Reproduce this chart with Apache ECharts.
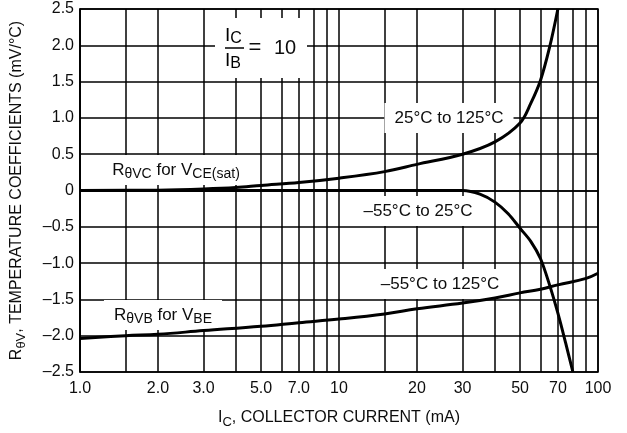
<!DOCTYPE html>
<html><head><meta charset="utf-8">
<script src="https://cdn.jsdelivr.net/npm/echarts@6/dist/echarts.min.js"></script>
<style>html,body{margin:0;padding:0;background:#fff}#c{width:627px;height:433px}</style>
</head><body><div id="c"></div>
<script>
// Collector current (mA) and temperature coefficients (mV/°C)
const vceHotCurrent = [1, 2, 3, 4, 5, 7, 10, 15, 20, 30, 40, 50, 55, 60, 65, 70];
const vceHotCoef    = [0, 0.005, 0.02, 0.04, 0.07, 0.11, 0.17, 0.26, 0.36, 0.5, 0.67, 0.93, 1.2, 1.52, 1.97, 2.5];

const vceColdCurrent = [1, 5, 10, 20, 30, 35, 40, 45, 50, 55, 60, 65, 70, 75, 80];
const vceColdCoef    = [0, 0, 0, 0, 0, -0.05, -0.16, -0.32, -0.52, -0.7, -0.94, -1.3, -1.69, -2.1, -2.5];

const vbeCurrent = [1, 1.5, 2, 3, 5, 7, 10, 15, 20, 30, 40, 50, 60, 70, 90, 100];
const vbeCoef    = [-2.04, -2.0, -1.98, -1.93, -1.87, -1.82, -1.77, -1.70, -1.63, -1.55, -1.48, -1.41, -1.36, -1.30, -1.21, -1.14];

const xGridValues = [1, 1.5, 2, 3, 4, 5, 6, 7, 8, 9, 10, 15, 20, 30, 40, 50, 60, 70, 80, 90, 100];
const xTickValues = [1, 2, 3, 5, 7, 10, 20, 30, 50, 70, 100];
const xTickLabels = ['1.0', '2.0', '3.0', '5.0', '7.0', '10', '20', '30', '50', '70', '100'];

const FONT = "'Liberation Sans', Arial, Helvetica, sans-serif";
const INK = '#0d0d0d';
const lg = v => Math.log10(v);
const toData = (xs, ys) => xs.map((x, i) => [lg(x), ys[i]]);

const rich = {
  m: { fontSize: 17, lineHeight: 22, fontFamily: FONT, color: INK },
  s: { fontSize: 14, lineHeight: 14, fontFamily: FONT, color: INK, verticalAlign: 'bottom' }
};
const axRich = {
  m: { fontSize: 16, lineHeight: 22, fontFamily: FONT, color: INK },
  s: { fontSize: 13, lineHeight: 13, fontFamily: FONT, color: INK, verticalAlign: 'bottom' }
};
const fracRich = {
  m: { fontSize: 19, lineHeight: 22, fontFamily: FONT, color: INK },
  s: { fontSize: 16, lineHeight: 15, fontFamily: FONT, color: INK, verticalAlign: 'bottom' }
};
function label(text, x, y) {
  return {
    type: 'text', x: x, y: y, z: 1,
    style: { text: text, rich: rich, align: 'center', verticalAlign: 'middle',
             backgroundColor: '#fff', padding: [4, 10], fontFamily: FONT, fill: INK }
  };
}

const chart = echarts.init(document.getElementById('c'), null, { renderer: 'canvas' });
chart.setOption({
  animation: false,
  backgroundColor: '#fff',
  grid: { left: 80, right: 29, top: 9, bottom: 61, containLabel: false, outerBoundsMode: 'none',
          show: true, borderColor: '#000', borderWidth: 1.5, backgroundColor: 'transparent' },
  xAxis: {
    type: 'value', min: 0, max: 2,
    axisLine: { show: true, lineStyle: { color: '#000', width: 1.5 } },
    axisTick: { show: false, customValues: xGridValues.map(lg) },
    splitLine: { show: true, lineStyle: { color: '#000', width: 1.5 } },
    axisLabel: {
      customValues: xTickValues.map(lg), margin: 9,
      fontSize: 16, fontFamily: FONT, color: INK,
      formatter: function (v) {
        const r = Math.pow(10, v);
        let best = 0;
        xTickValues.forEach((t, i) => { if (Math.abs(t - r) < Math.abs(xTickValues[best] - r)) best = i; });
        return xTickLabels[best];
      }
    },
    name: '{m|I}{s|C}{m|, COLLECTOR CURRENT (mA)}',
    nameLocation: 'middle', nameGap: 35,
    nameTextStyle: { rich: axRich }
  },
  yAxis: {
    type: 'value', min: -2.5, max: 2.5, interval: 0.5,
    axisLine: { show: true, lineStyle: { color: '#000', width: 1.5 } },
    axisTick: { show: false },
    splitLine: { show: true, lineStyle: { color: '#000', width: 1.5 } },
    axisLabel: {
      margin: 6, fontSize: 16, fontFamily: FONT, color: INK,
      formatter: v => v === 0 ? '0' : (v < 0 ? '\u2013' : '') + Math.abs(v).toFixed(1)
    },
    name: '{m|R}{s|θV}{m|, TEMPERATURE COEFFICIENTS (mV/°C)}',
    nameLocation: 'middle', nameRotate: 90, nameGap: 52,
    nameTextStyle: { rich: axRich }
  },
  series: [
    { type: 'line', data: toData(vceHotCurrent, vceHotCoef), showSymbol: false, symbol: 'none',
      smooth: 0.35, lineStyle: { color: '#000', width: 3 }, z: 3 },
    { type: 'line', data: toData(vceColdCurrent, vceColdCoef), showSymbol: false, symbol: 'none',
      smooth: 0.3, lineStyle: { color: '#000', width: 3 }, z: 3 },
    { type: 'line', data: toData(vbeCurrent, vbeCoef), showSymbol: false, symbol: 'none',
      smooth: 0.4, lineStyle: { color: '#000', width: 3 }, z: 3 }
  ],
  graphic: [
    label('{m|25°C to 125°C}', 449, 118),
    label('{m|\u201355°C to 25°C}', 418, 211),
    label('{m|\u201355°C to 125°C}', 440, 284),
    label('{m|R}{s|θVC}{m| for V}{s|CE(sat)}', 176, 170),
    label('{m|R}{s|θVB}{m| for V}{s|BE}', 163, 315),
    { type: 'rect', z: 1, shape: { x: 215, y: 18, width: 92, height: 60 }, style: { fill: '#fff' } },
    { type: 'text', z: 1, x: 225, y: 36, style: { text: '{m|I}{s|C}', rich: fracRich, align: 'left', verticalAlign: 'middle' } },
    { type: 'line', z: 1, shape: { x1: 225, y1: 48, x2: 244, y2: 48 }, style: { stroke: '#000', lineWidth: 1.5 } },
    { type: 'text', z: 1, x: 225, y: 61, style: { text: '{m|I}{s|B}', rich: fracRich, align: 'left', verticalAlign: 'middle' } },
    { type: 'text', z: 1, x: 255, y: 48, style: { text: '=', fontSize: 22, fontFamily: FONT, fill: INK, align: 'center', verticalAlign: 'middle' } },
    { type: 'text', z: 1, x: 285, y: 48, style: { text: '10', fontSize: 20, fontFamily: FONT, fill: INK, align: 'center', verticalAlign: 'middle' } }
  ]
});
</script></body></html>
